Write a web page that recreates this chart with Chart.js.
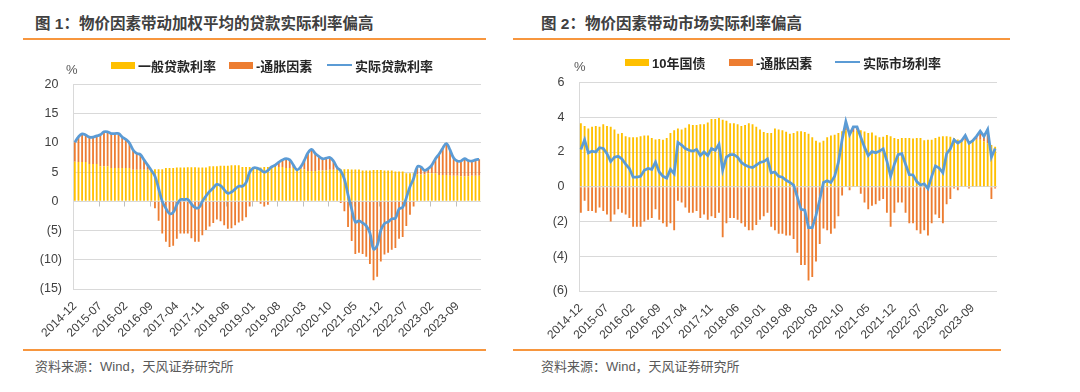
<!DOCTYPE html>
<html>
<head>
<meta charset="utf-8">
<script src="https://cdn.jsdelivr.net/npm/chart.js@4.4.1/dist/chart.umd.min.js"></script>
<style>
body { margin:0; width:1080px; height:392px; background:#fff; position:relative; overflow:hidden;
       font-family:"Liberation Sans","Noto Sans CJK SC",sans-serif; }
.title { position:absolute; top:13px; line-height:22px; font-size:15.5px; font-weight:bold; color:#404040; white-space:nowrap; }
.rule { position:absolute; height:2px; background:#F7963E; }
.source { position:absolute; top:358px; line-height:18px; font-size:13px; color:#595959; white-space:nowrap; }
.item { position:absolute; display:flex; align-items:center; height:16px; font-size:13px; font-weight:bold; color:#262626; white-space:nowrap; }
.swatch { width:24px; height:7px; margin-right:3px; }
.lineswatch { width:25px; height:2px; margin-right:3px; background:#5B9BD5; }
.unit { position:absolute; font-size:13px; line-height:14px; color:#595959; }
.box { position:absolute; }
</style>
</head>
<body>

<div class="box" style="left:0px; top:66px;"><canvas id="chart1" width="500" height="278"></canvas></div>
<div class="box" style="left:500px; top:64px;"><canvas id="chart2" width="520" height="283"></canvas></div>

<div class="title" style="left:35px;">图 1：物价因素带动加权平均的贷款实际利率偏高</div>
<div class="rule" style="left:23px; width:463px; top:38px;"></div>
<div class="item" style="left:111px; top:57px;"><span class="swatch" style="background:#FFC000"></span>一般贷款利率</div>
<div class="item" style="left:229px; top:57px;"><span class="swatch" style="background:#ED7D31"></span>-通胀因素</div>
<div class="item" style="left:327px; top:57px;"><span class="lineswatch"></span>实际贷款利率</div>
<div class="unit" style="left:66px; top:63px;">%</div>
<div class="rule" style="left:23px; width:463px; top:349px;"></div>
<div class="source" style="left:35px;">资料来源：Wind，天风证券研究所</div>

<div class="title" style="left:541px;">图 2：物价因素带动市场实际利率偏高</div>
<div class="rule" style="left:513px; width:497px; top:38px;"></div>
<div class="item" style="left:625px; top:54px;"><span class="swatch" style="background:#FFC000"></span>10年国债</div>
<div class="item" style="left:729px; top:54px;"><span class="swatch" style="background:#ED7D31"></span>-通胀因素</div>
<div class="item" style="left:835px; top:54px;"><span class="lineswatch"></span>实际市场利率</div>
<div class="unit" style="left:574px; top:60px;">%</div>
<div class="rule" style="left:513px; width:488px; top:349px;"></div>
<div class="source" style="left:541px;">资料来源：Wind，天风证券研究所</div>

<script>
// months 2014-12 .. 2024-03
const months = [];
for (let y = 2014, m = 12; months.length < 112; ) {
  months.push(y + '-' + String(m).padStart(2, '0'));
  m++;
  if (m > 12) { m = 1; y++; }
}

// chart 1: general loan rate (quarterly, held for each month), -PPI, real loan rate
const loanRate = [6.8,
  6.75,6.75,6.75, 6.4,6.4,6.4, 6.0,6.0,6.0, 5.7,5.7,5.7,
  5.7,5.7,5.7, 5.4,5.4,5.4, 5.4,5.4,5.4, 5.5,5.5,5.5,
  5.7,5.7,5.7, 5.8,5.8,5.8, 5.85,5.85,5.85, 5.8,5.8,5.8,
  6.0,6.0,6.0, 6.1,6.1,6.1, 6.2,6.2,6.2, 5.9,5.9,5.9,
  5.8,5.8,5.8, 5.9,5.9,5.9, 5.9,5.9,5.9, 5.7,5.7,5.7,
  5.5,5.5,5.5, 5.2,5.2,5.2, 5.3,5.3,5.3, 5.4,5.4,5.4,
  5.5,5.5,5.5, 5.45,5.45,5.45, 5.3,5.3,5.3, 5.35,5.35,5.35,
  5.3,5.3,5.3, 5.1,5.1,5.1, 4.8,4.8,4.8, 4.6,4.6,4.6,
  4.8,4.8,4.8, 4.5,4.5,4.5, 4.4,4.4,4.4, 4.3,4.3,4.3,
  4.4,4.4,4.4];
const inflationLoan = [3.3,
  4.3,4.8,4.6, 4.6,4.6,4.8, 5.4,5.9,5.9, 5.9,5.9,5.9,
  5.3,4.9,4.3, 3.4,2.8,2.6, 1.7,0.8,-0.1, -1.2,-3.3,-5.5,
  -6.9,-7.8,-7.6, -6.4,-5.5,-5.5, -5.5,-6.3,-6.9, -6.9,-5.8,-4.9,
  -4.3,-3.7,-3.1, -3.4,-4.1,-4.7, -4.6,-4.1,-3.6, -3.3,-2.7,-0.9,
  -0.1,-0.1,-0.4, -0.9,-0.6,0.0, 0.3,0.8,1.2, 1.6,1.4,0.5,
  -0.1,0.4,1.5, 3.1,3.7,3.0, 2.4,2.0,2.1, 2.1,1.5,0.4,
  -0.3,-1.7,-4.4, -6.8,-9.0,-8.8, -9.0,-9.5,-10.7, -13.5,-12.9,-10.3,
  -9.1,-8.8,-8.3, -8.0,-6.4,-6.1, -4.2,-2.3,-0.9, 1.3,1.3,0.7,
  0.8,1.4,2.5, 3.6,4.6,5.4, 4.4,3.0,2.5, 2.6,3.0,2.7,
  2.5,2.7,2.8];
const realLoanRate = [10.1,
  11.05,11.55,11.35, 11.0,11.0,11.2, 11.4,11.9,11.9, 11.6,11.6,11.6,
  11.0,10.6,10.0, 8.8,8.2,8.0, 7.1,6.2,5.3, 4.3,2.2,0.0,
  -1.2,-2.1,-1.9, -0.6,0.3,0.3, 0.35,-0.45,-1.05, -1.1,0.0,0.9,
  1.7,2.3,2.9, 2.7,2.0,1.4, 1.6,2.1,2.6, 2.6,3.2,5.0,
  5.7,5.7,5.4, 5.0,5.3,5.9, 6.2,6.7,7.1, 7.3,7.1,6.2,
  5.4,5.9,7.0, 8.3,8.9,8.2, 7.7,7.3,7.4, 7.5,6.9,5.8,
  5.2,3.8,1.1, -1.35,-3.55,-3.35, -3.7,-4.2,-5.4, -8.15,-7.55,-4.95,
  -3.8,-3.5,-3.0, -2.9,-1.3,-1.0, 0.6,2.5,3.9, 5.9,5.9,5.3,
  5.6,6.2,7.3, 8.1,9.1,9.9, 8.8,7.4,6.9, 6.9,7.3,7.0,
  6.9,7.1,7.2];

// chart 2: 10y government bond yield, -CPI, real market rate
const bondYield = [3.65,
  3.5,3.35,3.45, 3.5,3.45,3.6, 3.5,3.45,3.3, 3.05,3.1,2.9,
  2.85,2.85,2.85, 2.9,2.95,2.95, 2.8,2.72,2.75, 2.7,2.8,3.1,
  3.25,3.35,3.3, 3.4,3.6,3.55, 3.55,3.6,3.6, 3.7,3.9,3.9,
  3.95,3.85,3.8, 3.65,3.65,3.6, 3.5,3.55,3.65, 3.6,3.45,3.3,
  3.15,3.1,3.1, 3.35,3.3,3.25, 3.17,3.05,3.1, 3.2,3.2,3.15,
  3.05,2.85,2.65, 2.55,2.65,2.85, 2.95,3.0,3.1, 3.2,3.25,3.2,
  3.15,3.25,3.25, 3.18,3.1,3.12, 2.95,2.85,2.88, 2.98,2.9,2.8,
  2.75,2.8,2.8, 2.8,2.78,2.8, 2.8,2.67,2.7, 2.7,2.8,2.88,
  2.9,2.9,2.88, 2.8,2.72,2.65, 2.65,2.6,2.65, 2.7,2.7,2.6,
  2.5,2.4,2.3];
const inflationMarket = [-1.5,
  -0.8,-1.4,-1.4, -1.5,-1.2,-1.4, -1.6,-2.0,-1.6, -1.3,-1.5,-1.6,
  -1.8,-2.3,-2.3, -2.3,-2.0,-1.9, -1.8,-1.3,-1.9, -2.1,-2.3,-2.1,
  -2.5,-0.8,-0.9, -1.2,-1.5,-1.5, -1.4,-1.8,-1.6, -1.9,-1.7,-1.8,
  -1.5,-2.9,-2.1, -1.8,-1.8,-1.9, -2.1,-2.3,-2.5, -2.5,-2.2,-1.9,
  -1.7,-1.5,-2.3, -2.5,-2.7,-2.7, -2.8,-2.8,-3.0, -3.8,-4.5,-4.5,
  -5.4,-5.2,-4.3, -3.3,-2.4,-2.5, -2.7,-2.4,-1.7, -0.5,0.5,-0.2,
  0.3,0.2,-0.4, -0.9,-1.3,-1.1, -1.0,-0.8,-0.7, -1.5,-2.3,-1.5,
  -0.9,-0.9,-1.5, -2.1,-2.1,-2.5, -2.7,-2.5,-2.8, -2.1,-1.6,-1.8,
  -2.1,-1.0,-0.7, -0.1,-0.2,0.0, 0.3,-0.1,0.0, 0.2,0.5,0.3,
  0.8,-0.7,-0.1];
const realMarketRate = [2.15,
  2.7,1.95,2.05, 2.0,2.25,2.2, 1.9,1.45,1.7, 1.75,1.6,1.3,
  1.05,0.55,0.55, 0.6,0.95,1.05, 1.0,1.42,0.85, 0.6,0.5,1.0,
  0.75,2.55,2.4, 2.2,2.1,2.05, 2.15,1.8,2.0, 1.8,2.2,2.1,
  2.45,0.95,1.7, 1.85,1.85,1.7, 1.4,1.25,1.15, 1.1,1.25,1.4,
  1.45,1.6,0.8, 0.85,0.6,0.55, 0.37,0.25,0.1, -0.6,-1.3,-1.35,
  -2.35,-2.35,-1.65, -0.75,0.25,0.35, 0.25,0.6,1.4, 2.7,3.75,3.0,
  3.45,3.45,2.85, 2.28,1.8,2.02, 1.95,2.05,2.18, 1.48,0.6,1.3,
  1.85,1.9,1.3, 0.7,0.68,0.3, 0.1,0.17,-0.1, 0.6,1.2,1.08,
  0.8,1.9,2.18, 2.7,2.52,2.65, 2.95,2.5,2.65, 2.9,3.2,2.9,
  3.3,1.7,2.2];

const yTicksLoan = { min: -15, max: 20, step: 5 };
const yTicksMarket = { min: -6, max: 6, step: 2 };

// small tick marks on the zero line, every 7 months (chart 1)
const zeroTicks = {
  id: 'zeroTicks',
  beforeDatasetsDraw(chart, args, opts) {
    if (!opts.show) return;
    const x = chart.scales.x, y = chart.scales.y, ctx = chart.ctx;
    const y0 = Math.round(y.getPixelForValue(0)) + 0.5;
    const w = x.getPixelForValue(1) - x.getPixelForValue(0);
    ctx.save();
    ctx.strokeStyle = '#bfbfbf';
    ctx.lineWidth = 1;
    for (let i = 7; i < months.length; i += 7) {
      const px = Math.round(x.getPixelForValue(i) - w / 2) + 0.5;
      ctx.beginPath();
      ctx.moveTo(px, y0);
      ctx.lineTo(px, y0 + 5);
      ctx.stroke();
    }
    ctx.restore();
  }
};

function makeChart(id, bars1, bars2, line, yt, smooth, box) {
  const ctx = document.getElementById(id).getContext('2d');
  return new Chart(ctx, {
    type: 'bar',
    data: {
      labels: months,
      datasets: [
        { type: 'line', label: 'line', data: line, borderColor: '#5B9BD5', backgroundColor: '#5B9BD5',
          borderWidth: 2.75, pointRadius: 0, tension: smooth ? 0.4 : 0, stack: 'line', order: 0 },
        { label: 'a', data: bars1, backgroundColor: '#FFC000', stack: 'bars', order: 1,
          barPercentage: 0.5, categoryPercentage: 1.0 },
        { label: 'b', data: bars2, backgroundColor: '#ED7D31', stack: 'bars', order: 1,
          barPercentage: 0.5, categoryPercentage: 1.0 }
      ]
    },
    plugins: [zeroTicks],
    options: {
      responsive: false,
      animation: false,
      layout: { padding: { top: 0, right: box.right, left: 0, bottom: 0 } },
      plugins: { legend: { display: false }, tooltip: { enabled: false }, zeroTicks: { show: smooth } },
      scales: {
        x: {
          stacked: true,
          grid: { display: false },
          border: { display: false },
          afterFit: function(scale) { scale.height = box.xh; },
          ticks: {
            autoSkip: false, minRotation: 45, maxRotation: 45, padding: 2,
            color: '#404040', font: { family: 'Liberation Sans', size: 12 },
            callback: function(v, i) { return i % 7 === 0 ? months[i] : ''; }
          }
        },
        y: {
          stacked: true,
          min: yt.min, max: yt.max,
          grid: { color: '#d9d9d9', drawTicks: false },
          border: { color: '#d9d9d9' },
          afterFit: function(scale) { scale.width = box.yw; },
          ticks: {
            stepSize: yt.step, padding: 11,
            color: '#404040', font: { family: 'Liberation Sans', size: 12.5 },
            callback: function(v) { return v < 0 ? '(' + (-v) + ')' : v + ' '; }
          }
        }
      }
    }
  });
}

makeChart('chart1', loanRate, inflationLoan, realLoanRate, yTicksLoan, true,
  { right: 19, xh: 55, yw: 73 });
makeChart('chart2', bondYield, inflationMarket, realMarketRate, yTicksMarket, false,
  { right: 23, xh: 56, yw: 79 });
</script>
</body>
</html>
